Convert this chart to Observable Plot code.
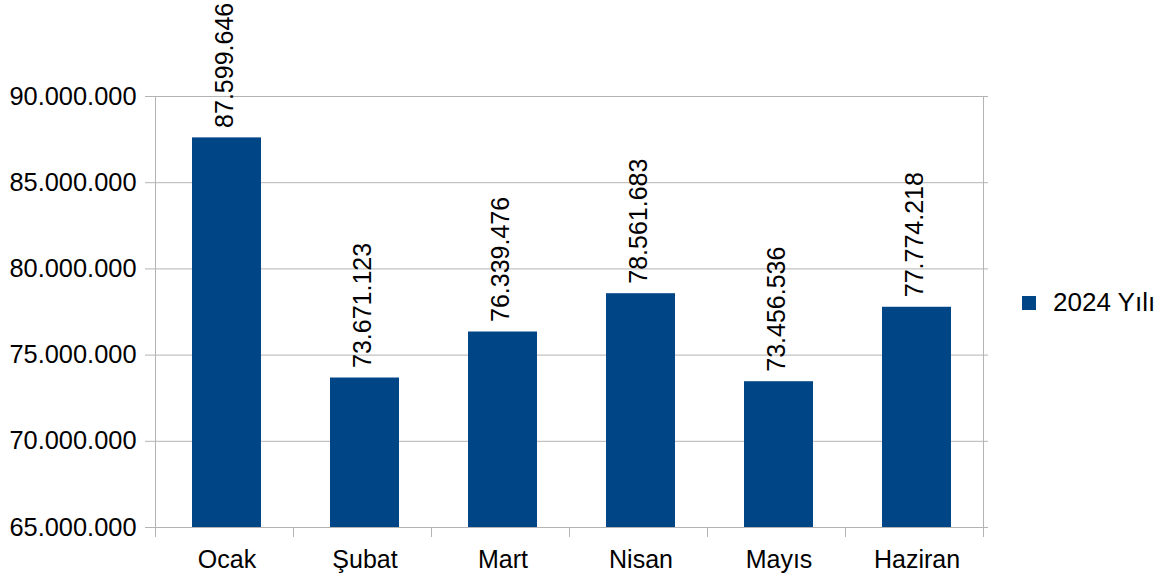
<!DOCTYPE html>
<html>
<head>
<meta charset="utf-8">
<script src="https://cdn.jsdelivr.net/npm/d3@7"></script>
<script src="https://cdn.jsdelivr.net/npm/@observablehq/plot@0.6"></script>
<style>
  body { margin: 0; background: #fff; }
  #wrap { position: relative; width: 1166px; height: 585px; font-family: "Liberation Sans", Arial, sans-serif; }
  #legend { position: absolute; left: 1022px; top: 287px; display: flex; align-items: center; font-size: 26px; color: #000; white-space: nowrap; }
  #legend .sw { width: 14px; height: 14px; background: #004586; margin-right: 17px; }
</style>
</head>
<body>
<div id="wrap"><div id="legend"><div class="sw"></div><span id="legtext"></span></div></div>
<script>
const months = ["Ocak", "Şubat", "Mart", "Nisan", "Mayıs", "Haziran"];
const values = [87599646, 73671123, 76339476, 78561683, 73456536, 77774218];
const seriesName = "2024 Yılı";
const yTicks = [65000000, 70000000, 75000000, 80000000, 85000000, 90000000];

const data = months.map((m, i) => ({month: m, value: values[i]}));
const fmt = d3.formatLocale({decimal: ",", thousands: ".", grouping: [3], currency: ["", ""]}).format(",");

const grid = "#b3b3b3";
const plot = Plot.plot({
  width: 1166,
  height: 585,
  marginLeft: 155,
  marginRight: 178,
  marginTop: 96,
  marginBottom: 58,
  style: {fontFamily: "Liberation Sans, Arial, sans-serif", fontSize: "25px", color: "#000", background: "#fff"},
  x: {domain: months, paddingInner: 0.5, paddingOuter: 0.25, label: null},
  y: {domain: [65000000, 90000000], label: null},
  marks: [
    Plot.gridY(yTicks, {stroke: grid, strokeOpacity: 1, strokeWidth: 1}),
    Plot.axisY(yTicks, {tickSize: 10, tickPadding: 9, stroke: grid, strokeOpacity: 1, tickFormat: fmt, fontSize: 25.4, fill: "#000"}),
    Plot.barY(data, {x: "month", y: "value", fill: "#004586", clip: true}),
    Plot.text(data, {x: "month", y: "value", text: d => fmt(d.value), rotate: -90, textAnchor: "start", dy: -10, dx: -2, fontSize: 25, fill: "#000"}),
    Plot.axisX({tickSize: 0, tickPadding: 23, fontSize: 25, fill: "#000"})
  ]
});
document.getElementById("wrap").prepend(plot);
document.getElementById("legtext").textContent = seriesName;

// category boundary ticks and side frame lines, from Plot's own scales
const xs = plot.scale("x"), ys = plot.scale("y");
const x0 = xs.range[0], x1 = xs.range[1], step = xs.step;
const yTop = ys.apply(90000000), yBot = ys.apply(65000000);
const svg = d3.select(plot);
for (let k = 0; k <= months.length; k++) {
  const x = Math.round(x0 + k * step) + 0.5;
  const full = (k === 0 || k === months.length);
  svg.append("line").attr("x1", x).attr("x2", x)
    .attr("y1", full ? yTop : yBot).attr("y2", yBot + 10)
    .attr("stroke", grid).attr("stroke-width", 1);
}
</script>
</body>
</html>
